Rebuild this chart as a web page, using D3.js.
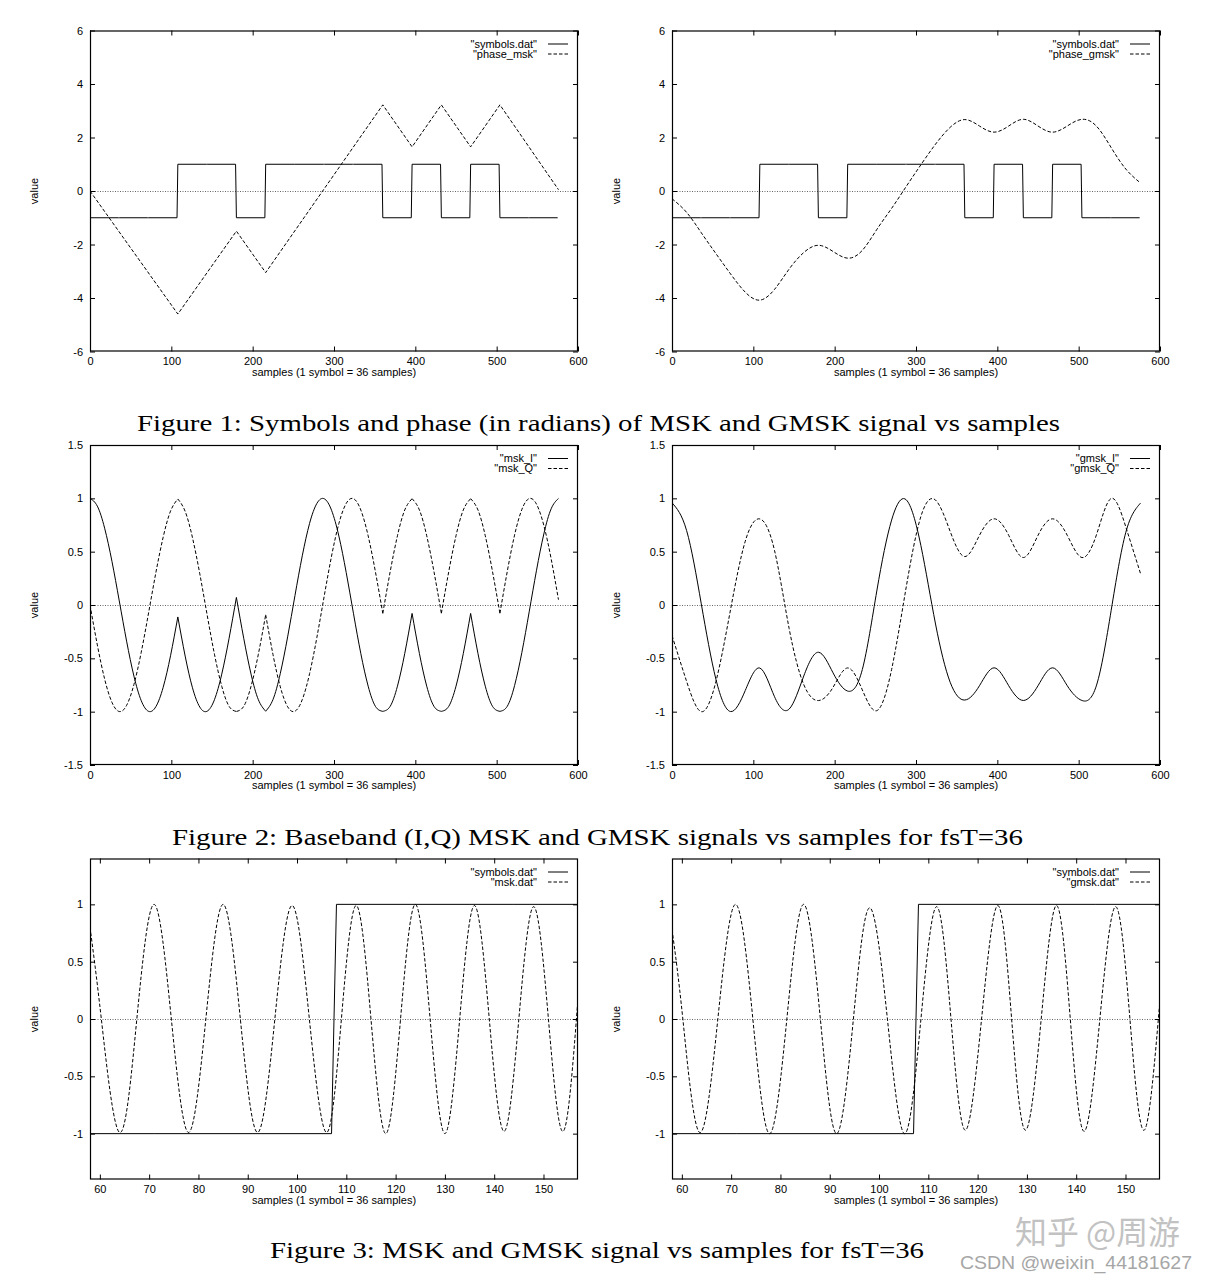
<!DOCTYPE html>
<html><head><meta charset="utf-8">
<script src="https://cdn.jsdelivr.net/npm/d3@7"></script>
<style>body{margin:0;background:#fff}svg{display:block}</style>
</head><body>
<svg id="c" width="1206" height="1280"></svg>
<script>
// ---------------- data ----------------
const samplesPerSymbol = 36;
const symbols = [-1,-1,-1,1,1,-1,1,1,1,1,-1,1,-1,1,-1,-1];

const phaseMskX = [0,108,180,216,360,396,432,468,504,576];
const phaseMsk  = [0,-4.6,-1.5,-3.05,3.22,1.65,3.22,1.65,3.22,0.05];

const grid18 = [0,18,36,54,72,90,108,126,144,162,180,198,216,234,252,270,288,306,324,342,360,378,396,414,432,450,468,486,504,522,540,558,576];
const phaseGmsk = [-0.29,-0.80,-1.56,-2.34,-3.10,-3.78,-4.08,-3.68,-2.92,-2.30,-2.03,-2.26,-2.51,-2.22,-1.43,-0.65,0.17,0.98,1.75,2.38,2.67,2.43,2.20,2.43,2.68,2.43,2.20,2.43,2.68,2.42,1.62,0.82,0.30];

const grid9 = [0,9,18,27,36,45,54,63,72,81,90,99,108,117,126,135,144,153,162,171,180,189,198,207,216,225,234,243,252,261,270,279,288,297,306,315,324,333,342,351,360,369,378,387,396,405,414,423,432,441,450,459,468,477,486,495,504,513,522,531,540,549,558,567,576];
const mskI = [1.000,0.927,0.720,0.409,0.038,-0.339,-0.666,-0.897,-0.997,-0.953,-0.771,-0.476,-0.112,
  -0.479,-0.776,-0.957,-0.996,-0.888,-0.648,-0.312,0.071,
  -0.312,-0.648,-0.888,-0.996,
  -0.886,-0.641,-0.299,0.088,0.461,0.766,0.953,0.996,0.888,0.646,0.305,-0.082,-0.456,-0.761,-0.951,-0.997,
  -0.951,-0.761,-0.454,-0.079,
  -0.454,-0.761,-0.951,-0.997,
  -0.951,-0.761,-0.454,-0.079,
  -0.454,-0.761,-0.951,-0.997,
  -0.950,-0.756,-0.444,-0.064,0.326,0.666,0.902,0.999];
const mskQ = [0,-0.374,-0.694,-0.913,-0.999,-0.941,-0.746,-0.443,-0.075,0.304,0.637,0.880,0.994,
  0.878,0.631,0.292,-0.092,-0.461,-0.762,-0.950,-0.998,
  -0.950,-0.762,-0.461,-0.092,
  -0.465,-0.768,-0.954,-0.996,-0.887,-0.643,-0.302,0.085,0.459,0.764,0.952,0.997,0.890,0.648,0.308,-0.078,
  0.309,0.649,0.891,0.997,
  0.891,0.649,0.309,-0.078,
  0.309,0.649,0.891,0.997,
  0.891,0.649,0.309,-0.078,
  0.313,0.655,0.896,0.998,0.945,0.746,0.432,0.050];

const gmskI = [0.958,0.697,0.011,-0.696,-0.999,-0.803,-0.591,-0.859,-0.976,-0.666,-0.443,-0.636,-0.807,-0.605,0.140,0.796,0.986,0.557,-0.178,-0.724,-0.891,-0.757,-0.589,-0.757,-0.895,-0.757,-0.589,-0.757,-0.895,-0.751,-0.049,0.682,0.955];
const gmskQ = [-0.286,-0.717,-1.000,-0.718,-0.042,0.596,0.807,0.513,-0.220,-0.746,-0.896,-0.772,-0.590,-0.796,-0.990,-0.605,0.169,0.830,0.984,0.690,0.454,0.653,0.808,0.653,0.445,0.653,0.808,0.653,0.445,0.661,0.999,0.731,0.296];

const mskPassX = [58,60.3,64,67.5,71,74.5,78,81.5,85,88.5,92,95.5,99,102.5,106,109,112,115,118,121,124,127,130,133,136,139,142,145,148,151,154,157];
const mskPass  = [0.80,0,-0.99,0,1,0,-0.99,0,1,0,-0.99,0,0.99,0,-0.99,0,0.99,0,-1,0,1,0,-1,0,0.99,0,-0.98,0,0.98,0,-0.98,0.18];
const gmskPassX = [58,60.2,63.6,67.3,70.9,74.4,77.8,81.3,84.7,88.1,91.4,94.8,98.1,101.7,105.2,108.5,111.7,114.6,117.5,120.8,124.1,126.9,129.7,132.9,136,138.8,141.6,144.8,148,150.9,153.8,157];
const gmskPass  = [0.78,0,-0.99,0,1,0,-1,0,1,0,-1,0,0.97,0,-1,0,0.98,0,-0.97,0,0.99,0,-0.97,0,0.99,0,-0.98,0,0.98,0,-0.97,0.17];

const xTicksWide = [0,100,200,300,400,500,600];
const xTicksZoom = [60,70,80,90,100,110,120,130,140,150];
const yTicksPhase = [-6,-4,-2,0,2,4,6];
const yTicksIQ = [-1.5,-1,-0.5,0,0.5,1,1.5];
const yTicksPass = [-1,-0.5,0,0.5,1];

const captions = [
  "Figure 1: Symbols and phase (in radians) of MSK and GMSK signal vs samples",
  "Figure 2: Baseband (I,Q) MSK and GMSK signals vs samples for fsT=36",
  "Figure 3: MSK and GMSK signal vs samples for fsT=36"
];
const xTitle = "samples (1 symbol = 36 samples)";
const yTitle = "value";

// ---------------- helpers ----------------
const zip = (xs, ys) => xs.map((v, i) => [v, ys[i]]);
const symbolPts = symbols.flatMap((s, k) => [[k * samplesPerSymbol, s], [k * samplesPerSymbol + samplesPerSymbol - 1, s]]);
function splitAt(pts, breaks) {
  const out = [];
  for (let i = 0; i < breaks.length - 1; i++) {
    out.push(pts.filter(p => p[0] >= breaks[i] && p[0] <= breaks[i + 1]));
  }
  return out;
}

const svg = d3.select('#c');
const FONT = '"Liberation Sans", Arial, Helvetica, sans-serif';
const DASH = '3.5,2';

function drawPanel(p) {
  const W = 488;
  const x = d3.scaleLinear().domain(p.xd).range([p.L, p.L + W]);
  const y = d3.scaleLinear().domain(p.yd).range([p.T + p.H, p.T]);
  const g = svg.append('g');
  const clipId = 'clip-' + p.id;
  svg.append('clipPath').attr('id', clipId).append('rect')
    .attr('x', p.L).attr('y', p.T).attr('width', W).attr('height', p.H);

  // zero axis
  g.append('line').attr('x1', p.L).attr('x2', p.L + W)
    .attr('y1', Math.round(y(0)) + 0.5).attr('y2', Math.round(y(0)) + 0.5)
    .attr('stroke', '#666').attr('stroke-width', 1).attr('stroke-dasharray', '1,1.5');

  const plot = g.append('g').attr('clip-path', `url(#${clipId})`);
  p.series.forEach(s => {
    const line = d3.line().x(d => x(d[0])).y(d => y(d[1])).curve(s.curve);
    s.pieces.forEach(piece => {
      plot.append('path').datum(piece).attr('d', line)
        .attr('fill', 'none').attr('stroke', '#000').attr('stroke-width', 1)
        .attr('stroke-dasharray', s.dashed ? DASH : null);
    });
  });

  const fmt = d => String(d);
  const styleAxis = sel => {
    sel.select('.domain').remove();
    sel.attr('font-family', FONT).attr('font-size', 11);
    sel.selectAll('line').attr('stroke', '#000');
    sel.selectAll('text').attr('fill', '#000');
  };
  g.append('g').attr('transform', `translate(0,${p.T + p.H})`)
    .call(d3.axisBottom(x).tickValues(p.xt).tickSizeInner(-5).tickSizeOuter(0).tickPadding(6).tickFormat(fmt)).call(styleAxis);
  g.append('g').attr('transform', `translate(0,${p.T})`)
    .call(d3.axisTop(x).tickValues(p.xt).tickSizeInner(-5).tickSizeOuter(0).tickFormat(() => '')).call(styleAxis);
  g.append('g').attr('transform', `translate(${p.L},0)`)
    .call(d3.axisLeft(y).tickValues(p.yt).tickSizeInner(-5).tickSizeOuter(0).tickPadding(7).tickFormat(fmt)).call(styleAxis);
  g.append('g').attr('transform', `translate(${p.L + W},0)`)
    .call(d3.axisRight(y).tickValues(p.yt).tickSizeInner(-5).tickSizeOuter(0).tickFormat(() => '')).call(styleAxis);

  g.append('rect').attr('x', p.L + 0.5).attr('y', p.T + 0.5).attr('width', W - 1).attr('height', p.H - 1)
    .attr('fill', 'none').attr('stroke', '#000').attr('stroke-width', 1.2);

  g.append('text').attr('x', p.L + W / 2).attr('y', p.T + p.H + 24)
    .attr('text-anchor', 'middle').attr('font-family', FONT).attr('font-size', 11).text(xTitle);
  g.append('text').attr('transform', `translate(${p.L - 52},${p.T + p.H / 2}) rotate(-90)`)
    .attr('text-anchor', 'middle').attr('font-family', FONT).attr('font-size', 11).text(yTitle);

  // legend
  p.legend.forEach((name, i) => {
    const cy = p.T + 13 + i * 10;
    g.append('text').attr('x', p.L + W - 41).attr('y', cy + 4)
      .attr('text-anchor', 'end').attr('font-family', FONT).attr('font-size', 11).text(name);
    g.append('line').attr('x1', p.L + W - 30).attr('x2', p.L + W - 10)
      .attr('y1', cy + 0.5).attr('y2', cy + 0.5).attr('stroke', '#000').attr('stroke-width', 1)
      .attr('stroke-dasharray', i === 1 ? DASH : null);
  });
}

const lin = d3.curveLinear, nat = d3.curveNatural;
const panels = [
  {id:'p1', L:90, T:30.5, H:321, xd:[0,600], yd:[-6,6], xt:xTicksWide, yt:yTicksPhase,
   legend:['"symbols.dat"','"phase_msk"'],
   series:[{pieces:[symbolPts], curve:lin}, {pieces:[zip(phaseMskX, phaseMsk)], curve:lin, dashed:true}]},
  {id:'p2', L:672, T:30.5, H:321, xd:[0,600], yd:[-6,6], xt:xTicksWide, yt:yTicksPhase,
   legend:['"symbols.dat"','"phase_gmsk"'],
   series:[{pieces:[symbolPts], curve:lin}, {pieces:[zip(grid18, phaseGmsk)], curve:nat, dashed:true}]},
  {id:'p3', L:90, T:445, H:320, xd:[0,600], yd:[-1.5,1.5], xt:xTicksWide, yt:yTicksIQ,
   legend:['"msk_I"','"msk_Q"'],
   series:[{pieces:splitAt(zip(grid9, mskI), phaseMskX), curve:nat}, {pieces:splitAt(zip(grid9, mskQ), phaseMskX), curve:nat, dashed:true}]},
  {id:'p4', L:672, T:445, H:320, xd:[0,600], yd:[-1.5,1.5], xt:xTicksWide, yt:yTicksIQ,
   legend:['"gmsk_I"','"gmsk_Q"'],
   series:[{pieces:[zip(grid18, gmskI)], curve:nat}, {pieces:[zip(grid18, gmskQ)], curve:nat, dashed:true}]},
  {id:'p5', L:90, T:858.5, H:321, xd:[58,157], yd:[-1.4,1.4], xt:xTicksZoom, yt:yTicksPass,
   legend:['"symbols.dat"','"msk.dat"'],
   series:[{pieces:[symbolPts], curve:lin}, {pieces:[zip(mskPassX, mskPass)], curve:nat, dashed:true}]},
  {id:'p6', L:672, T:858.5, H:321, xd:[58,157], yd:[-1.4,1.4], xt:xTicksZoom, yt:yTicksPass,
   legend:['"symbols.dat"','"gmsk.dat"'],
   series:[{pieces:[symbolPts], curve:lin}, {pieces:[zip(gmskPassX, gmskPass)], curve:nat, dashed:true}]}
];
panels.forEach(drawPanel);

// captions
const capPos = [{y:431, x0:137, x1:1060}, {y:845, x0:172, x1:1023}, {y:1258, x0:270, x1:924}];
captions.forEach((t, i) => {
  svg.append('text').attr('x', capPos[i].x0).attr('y', capPos[i].y)
    .attr('font-family', '"Liberation Serif", "DejaVu Serif", serif').attr('font-size', 24)
    .attr('textLength', capPos[i].x1 - capPos[i].x0).attr('lengthAdjust', 'spacingAndGlyphs')
    .attr('fill', '#000').text(t);
});

// watermark
svg.append('text').attr('x', 1015).attr('y', 1244).attr('font-family', '"Noto Sans CJK SC", sans-serif')
  .attr('font-size', 32).attr('fill', '#c2c2c2').attr('textLength', 165).attr('lengthAdjust', 'spacingAndGlyphs').text('知乎 @周游');
svg.append('text').attr('x', 960).attr('y', 1269).attr('font-family', FONT)
  .attr('font-size', 19).attr('fill', '#a6a6a6').attr('textLength', 232).attr('lengthAdjust', 'spacingAndGlyphs').text('CSDN @weixin_44181627');
</script>
</body></html>
